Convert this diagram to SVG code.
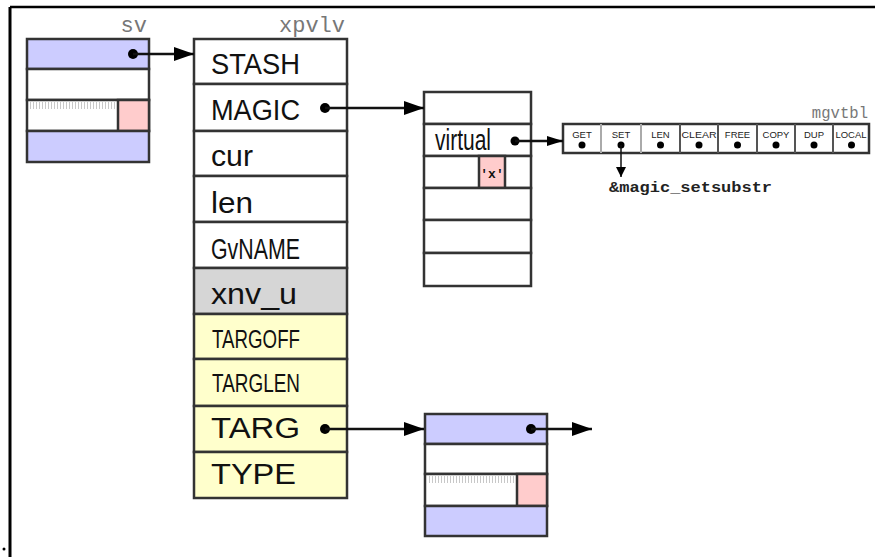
<svg xmlns="http://www.w3.org/2000/svg" width="875" height="557" viewBox="0 0 875 557">
<style>
.box{stroke:#333;stroke-width:2.5;}
.blue{fill:#ccccff;}
.white{fill:#ffffff;}
.pink{fill:#ffcccc;}
.yellow{fill:#ffffcc;}
.grey{fill:#d6d6d6;}
.big{font-family:"Liberation Sans",Arial,sans-serif;font-size:29px;fill:#111;}
.mid{font-family:"Liberation Sans",Arial,sans-serif;font-size:25px;fill:#111;}
.lbl{font-family:"Liberation Mono","Courier New",monospace;fill:#777;}
.cell{font-family:"Liberation Sans",Arial,sans-serif;font-size:9.5px;fill:#222;text-anchor:middle;}
.conn{stroke:#111;stroke-width:2.5;fill:none;}
.dot{fill:#000;}
</style>
<defs>
<marker id="ah" markerUnits="userSpaceOnUse" markerWidth="22" markerHeight="16" refX="20" refY="7" orient="auto">
<path d="M0,0 L20,7 L0,14 Z" fill="#000"/>
</marker>
<marker id="ahm" markerUnits="userSpaceOnUse" markerWidth="18" markerHeight="12" refX="16" refY="5" orient="auto">
<path d="M0,0 L16,5 L0,10 Z" fill="#000"/>
</marker>
<marker id="ahs" markerUnits="userSpaceOnUse" markerWidth="12" markerHeight="12" refX="10" refY="5" orient="auto">
<path d="M0,0 L10,5 L0,10 Z" fill="#000"/>
</marker>
<pattern id="ticks" patternUnits="userSpaceOnUse" width="3" height="8">
<rect x="0" y="0" width="1" height="8" fill="#c8c8c8"/>
</pattern>
</defs>

<rect width="875" height="557" fill="#fff"/>
<g id="frame">
<line x1="10" y1="7" x2="875" y2="7" stroke="#000" stroke-width="2.5"/>
<line x1="10" y1="7" x2="10" y2="557" stroke="#000" stroke-width="3"/>
<circle cx="4" cy="549" r="1.5" fill="#000"/>
</g>

<g id="sv">
<text class="lbl" x="147" y="32" font-size="22" text-anchor="end">sv</text>
<rect class="box blue" x="27" y="39" width="122" height="30"/>
<rect class="box white" x="27" y="69" width="122" height="31"/>
<rect class="box white" x="27" y="100" width="122" height="31"/>
<rect x="29" y="102" width="87" height="7" fill="url(#ticks)"/>
<rect class="box pink" x="118" y="100" width="31" height="31"/>
<rect class="box blue" x="27" y="131" width="122" height="31"/>
</g>

<g id="xpvlv">
<text class="lbl" x="345" y="32" font-size="22" text-anchor="end">xpvlv</text>
<rect class="box white" x="194" y="39" width="153" height="45"/>
<rect class="box white" x="194" y="84" width="153" height="47"/>
<rect class="box white" x="194" y="131" width="153" height="45"/>
<rect class="box white" x="194" y="176" width="153" height="46"/>
<rect class="box white" x="194" y="222" width="153" height="46"/>
<rect class="box grey" x="194" y="268" width="153" height="46"/>
<rect class="box yellow" x="194" y="314" width="153" height="45"/>
<rect class="box yellow" x="194" y="359" width="153" height="47"/>
<rect class="box yellow" x="194" y="406" width="153" height="46"/>
<rect class="box yellow" x="194" y="452" width="153" height="46"/>
<text class="big" x="211" y="74" textLength="89" lengthAdjust="spacingAndGlyphs">STASH</text>
<text class="big" x="211" y="119.5" textLength="89" lengthAdjust="spacingAndGlyphs">MAGIC</text>
<text class="big" x="211" y="166" textLength="42" lengthAdjust="spacingAndGlyphs">cur</text>
<text class="big" x="211" y="212.5" textLength="42" lengthAdjust="spacingAndGlyphs">len</text>
<text class="big" x="211" y="258.5" font-size="28" textLength="89" lengthAdjust="spacingAndGlyphs">GvNAME</text>
<text class="big" x="211" y="304" textLength="86" lengthAdjust="spacingAndGlyphs">xnv_u</text>
<text class="mid" x="212" y="348" textLength="88" lengthAdjust="spacingAndGlyphs">TARGOFF</text>
<text class="mid" x="212" y="392" textLength="88" lengthAdjust="spacingAndGlyphs">TARGLEN</text>
<text class="big" x="211" y="437.5" textLength="89" lengthAdjust="spacingAndGlyphs">TARG</text>
<text class="big" x="211" y="484" textLength="85" lengthAdjust="spacingAndGlyphs">TYPE</text>
</g>

<g id="magic">
<rect class="box white" x="424" y="92" width="107" height="32"/>
<rect class="box white" x="424" y="124" width="107" height="32"/>
<rect class="box white" x="424" y="156" width="107" height="32"/>
<rect class="box pink" x="479" y="156" width="26" height="32"/>
<rect class="box white" x="424" y="188" width="107" height="32"/>
<rect class="box white" x="424" y="220" width="107" height="33"/>
<rect class="box white" x="424" y="253" width="107" height="33"/>
<text class="big" x="435" y="150" font-size="19" textLength="56" lengthAdjust="spacingAndGlyphs">virtual</text>
<text x="492" y="178" font-family="'Liberation Mono','Courier New',monospace" font-size="13" font-weight="bold" fill="#111" text-anchor="middle">'x'</text>
</g>

<g id="mgvtbl">
<text class="lbl" x="868" y="118" font-size="15.6" text-anchor="end">mgvtbl</text>
<rect class="box white" x="563" y="124" width="306" height="29"/>
<line x1="601" y1="124" x2="601" y2="153" stroke="#aaa" stroke-width="2"/>
<line x1="641" y1="124" x2="641" y2="153" stroke="#aaa" stroke-width="2"/>
<line x1="680" y1="124" x2="680" y2="153" stroke="#555" stroke-width="2"/>
<line x1="718" y1="124" x2="718" y2="153" stroke="#555" stroke-width="2"/>
<line x1="757" y1="124" x2="757" y2="153" stroke="#555" stroke-width="2"/>
<line x1="795" y1="124" x2="795" y2="153" stroke="#555" stroke-width="2"/>
<line x1="833" y1="124" x2="833" y2="153" stroke="#555" stroke-width="2"/>
<text class="cell" x="582" y="137.5">GET</text>
<text class="cell" x="621" y="137.5">SET</text>
<text class="cell" x="660.5" y="137.5">LEN</text>
<text class="cell" x="699" y="137.5" textLength="35" lengthAdjust="spacingAndGlyphs">CLEAR</text>
<text class="cell" x="737.5" y="137.5">FREE</text>
<text class="cell" x="776" y="137.5">COPY</text>
<text class="cell" x="814" y="137.5">DUP</text>
<text class="cell" x="851" y="137.5" textLength="31" lengthAdjust="spacingAndGlyphs">LOCAL</text>
<circle class="dot" cx="582" cy="145" r="3.5"/>
<circle class="dot" cx="621" cy="145" r="3.5"/>
<circle class="dot" cx="660.5" cy="145" r="3.5"/>
<circle class="dot" cx="699" cy="145" r="3.5"/>
<circle class="dot" cx="737.5" cy="145" r="3.5"/>
<circle class="dot" cx="776" cy="145" r="3.5"/>
<circle class="dot" cx="814" cy="145" r="3.5"/>
<circle class="dot" cx="851.5" cy="145" r="3.5"/>
</g>

<g id="setsubstr">
<text x="609" y="192" font-family="'Liberation Mono','Courier New',monospace" font-size="14" font-weight="bold" fill="#222" textLength="163" lengthAdjust="spacingAndGlyphs">&amp;magic_setsubstr</text>
</g>

<g id="targ_sv">
<rect class="box blue" x="425" y="414" width="122" height="30"/>
<rect class="box white" x="425" y="444" width="122" height="30"/>
<rect class="box white" x="425" y="474" width="122" height="32"/>
<rect x="427" y="476" width="88" height="7" fill="url(#ticks)"/>
<rect class="box pink" x="517" y="474" width="30" height="32"/>
<rect class="box blue" x="425" y="506" width="122" height="30"/>
</g>

<g id="connectors">
<circle class="dot" cx="133" cy="54" r="5"/>
<line class="conn" x1="133" y1="54" x2="194" y2="54" marker-end="url(#ah)"/>
<circle class="dot" cx="325" cy="108" r="5"/>
<line class="conn" x1="325" y1="108" x2="424" y2="108" marker-end="url(#ah)"/>
<circle class="dot" cx="515" cy="141" r="4.5"/>
<line class="conn" x1="515" y1="141" x2="563" y2="141" marker-end="url(#ahm)"/>
<line x1="621" y1="145" x2="621" y2="177" stroke="#111" stroke-width="1.5" marker-end="url(#ahs)"/>
<circle class="dot" cx="325" cy="429" r="5"/>
<line class="conn" x1="325" y1="429" x2="424" y2="429" marker-end="url(#ah)"/>
<circle class="dot" cx="531" cy="429" r="5"/>
<line class="conn" x1="531" y1="429" x2="592" y2="429" marker-end="url(#ah)"/>
</g>
</svg>
